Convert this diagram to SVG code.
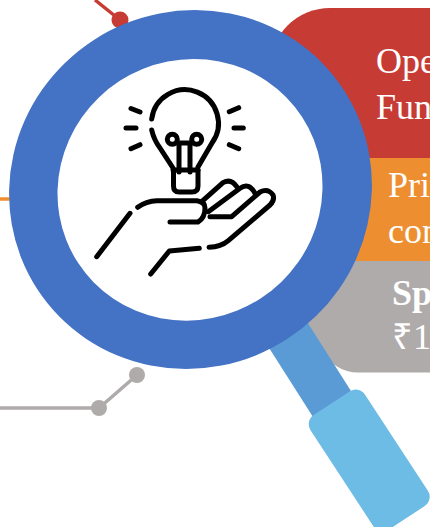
<svg xmlns="http://www.w3.org/2000/svg" width="430" height="527" viewBox="0 0 430 527">
<style>
.t{font-family:"Liberation Serif","Times New Roman",serif;fill:#fff;font-size:36px}
.i{fill:none;stroke:#000;stroke-width:5;stroke-linecap:round;stroke-linejoin:round}
</style>
<rect width="430" height="527" fill="#fff"/>
<g id="connectors" fill="none" stroke-width="3.500">
<path d="M95 0L120 20" stroke="#C73B35"/>
<path d="M0 199H20" stroke="#ED8F31"/>
<path d="M0 408H99L137 375" stroke="#AEABAA"/>
</g>
<g id="dots">
<circle cx="120" cy="20" r="8.500" fill="#C73B35"/>
<circle cx="99" cy="408" r="8" fill="#AEABAA"/>
<circle cx="137" cy="375" r="8" fill="#AEABAA"/>
</g>
<g id="panel-red">
<path d="M270 158V68A60 60 0 0 1 330 8H430V158Z" fill="#C73B35"/>
<text class="t" x="376" y="73">Ope</text>
<text class="t" x="376" y="119">Fun</text>
</g>
<g id="panel-orange">
<path d="M270 158H430V261H270Z" fill="#ED8F31"/>
<text class="t" x="388" y="197">Pri</text>
<text class="t" x="388" y="243">con</text>
</g>
<g id="panel-gray">
<path d="M270 261H430V372.500H360A40 40 0 0 1 320 345L270 300Z" fill="#AEABAA"/>
<text class="t" x="392" y="305" font-weight="bold">Sp</text>
<text class="t" x="392" y="349">₹1</text>
</g>
<g id="magnifier">
<path d="M245 310L320 428L358 402L290 295Z" fill="#5B9BD5"/>
<rect x="0" y="0" width="65" height="137" rx="11" transform="translate(304.500 421) rotate(-33.200)" fill="#6DBCE5"/>
<ellipse cx="190.500" cy="189.500" rx="182.800" ry="178.100" transform="rotate(-33 190.500 189.500)" fill="#4472C4"/>
<ellipse cx="190" cy="189.800" rx="133.700" ry="129.600" transform="rotate(-33 190 189.800)" fill="#fff"/>
</g>
<g id="icon" class="i">
<path d="M151.700 119A33.500 33.500 0 1 1 212 143L198 167"/>
<path d="M151.700 130Q154 140 160 148L173 168"/>
<path d="M173.500 170V186Q173.500 192 179 192H192Q198 192 198 186V170"/>
<path d="M173 170H198"/>
<circle cx="172.300" cy="139.300" r="5"/>
<circle cx="196.700" cy="139.300" r="5"/>
<path d="M177 143H192M179 143V172M190 143V172"/>
<path d="M131 108.500L140 112M126 128H136M131 148.700L140 144.700M229.300 111.700L238.700 107.700M234 128H243.300M229.300 144.700L238.700 148.700"/>
<path d="M137.700 207.300Q146 201 157 200.700H197Q205 202 205 208Q205 218 198 222H170"/>
<path d="M130 213.300L96.700 256.700"/>
<path d="M150.700 274L169.300 251L199.300 248.300"/>
<path d="M209 247.300Q221 247 228.300 240.700L270 205Q275 200 273 195Q268 188 260 192L231.700 216.700H210"/>
<path d="M201.700 201.700L223 182.700Q231 178 236.700 186.700"/>
<path d="M208.300 211.700L240 188.300Q249 182 255 193.300"/>
</g>
</svg>
